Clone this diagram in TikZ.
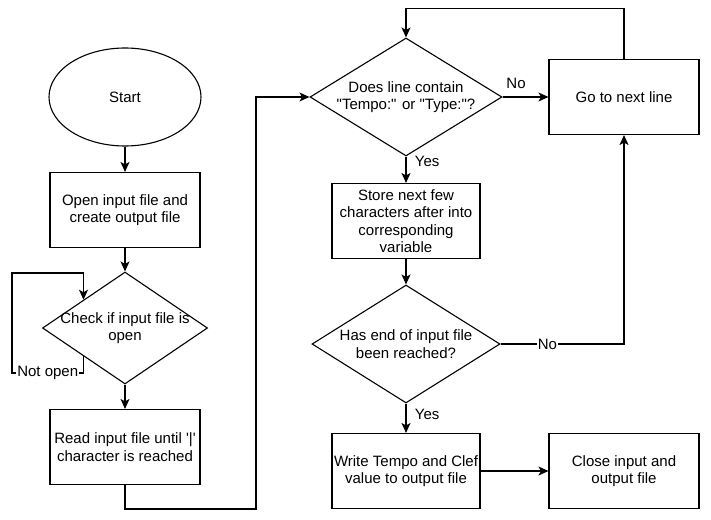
\documentclass[tikz,border=0pt]{standalone}
\usepackage{fontspec}
\setmainfont{Liberation Sans}
\usetikzlibrary{shapes.geometric,arrows.meta}

\begin{document}
\begin{tikzpicture}[x=1pt, y=-1pt, line width=1.1pt,
  every node/.style={font=\fontsize{15}{17.5}\selectfont, align=center},
  box/.style={draw, rectangle, inner sep=0pt, minimum width=150pt, minimum height=75pt},
  decision/.style={draw, diamond, inner sep=0pt},
  tag/.style={fill=white, inner sep=1pt},
  >={Stealth[length=10pt, width=9pt, inset=2.5pt]}]

\useasboundingbox (0,0) rectangle (711,519);

\node[draw, ellipse, inner sep=0pt, minimum width=152pt, minimum height=98pt] (start) at (125,97) {Start};
\node[box] (open) at (125,210) {Open input file and\\create output file};
\node[decision, minimum width=165pt, minimum height=112pt,
  label={center:{Check if input file is\\open}}] (check) at (125,328) {};
\node[box] (read) at (125,447) {Read input file until \textquotesingle|\textquotesingle\\character is reached};

\node[decision, minimum width=192pt, minimum height=118pt,
  label={center:{Does line contain\\\textquotedbl Tempo:\textquotedbl{} or \textquotedbl Type:\textquotedbl?}}] (does) at (406,97) {};
\node[box] (next) at (624,97) {Go to next line};
\node[box, minimum width=148pt] (store) at (406,221) {Store next few\\characters after into\\corresponding\\variable};
\node[decision, minimum width=188pt, minimum height=118pt,
  label={center:{Has end of input file\\been reached?}}] (eof) at (406,344) {};
\node[box, minimum width=148pt] (write) at (406,471) {Write Tempo and Clef\\value to output file};
\node[box] (close) at (624,471) {Close input and\\output file};

\draw[->] (start) -- (open);
\draw[->] (open) -- (check);
\draw[->] (check) -- (read);
\draw[->] (check.south west) |- node[pos=0.75, tag] {Not open} (12,373)
  |- (check.north west |- 0,273) -- (check.north west);
\draw[->] (read.south) |- (256,509) |- (does.west);

\draw[->] (does.east) -- node[pos=0, anchor=west, yshift=14pt] {No} (next.west);
\draw[->] (next.north) -- ++(0,-50) -| (does.north);
\draw[->] (does) -- node[pos=0.2, right, xshift=5pt] {Yes} (store);
\draw[->] (store) -- (eof);
\draw[->] (eof.east) -| node[pos=0.19, tag] {No} (next.south);
\draw[->] (eof) -- node[pos=0.37, right, xshift=5pt] {Yes} (write);
\draw[->] (write) -- (close);
\end{tikzpicture}
\end{document}
